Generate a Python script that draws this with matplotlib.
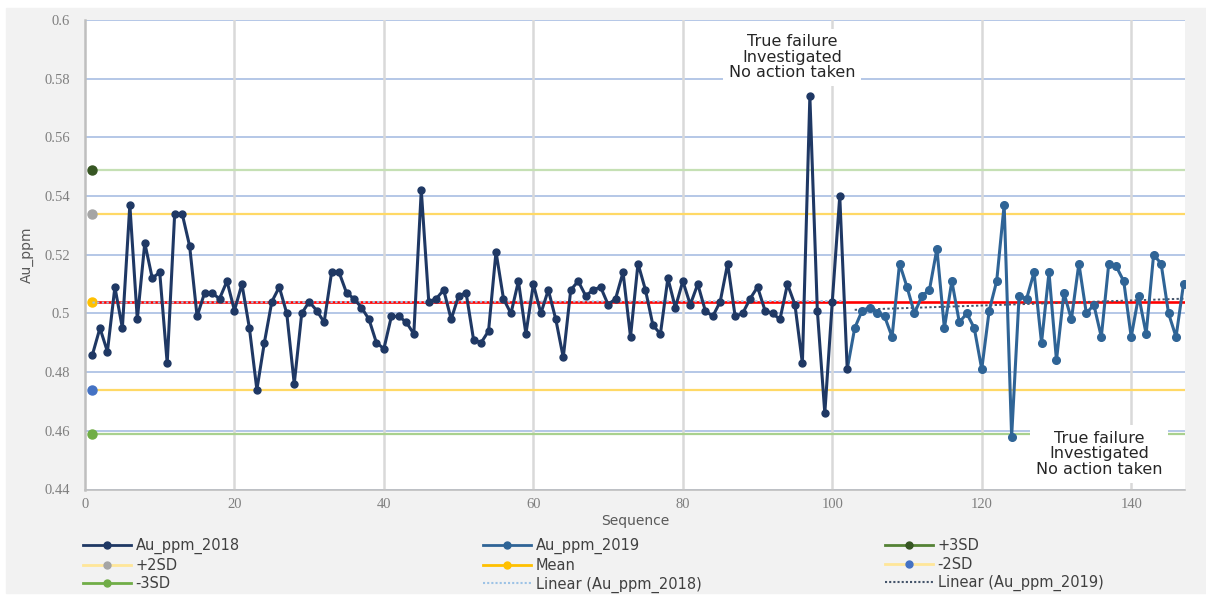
import numpy as np
import matplotlib
matplotlib.use("Agg")
import matplotlib.pyplot as plt
from matplotlib.lines import Line2D
from matplotlib.patches import Rectangle
from matplotlib.ticker import FuncFormatter

# Au standard results
au_ppm_2018 = [0.486, 0.495, 0.487, 0.509, 0.495, 0.537, 0.498, 0.524, 0.512, 0.514,
               0.483, 0.534, 0.534, 0.523, 0.499, 0.507, 0.507, 0.505, 0.511, 0.501,
               0.510, 0.495, 0.474, 0.490, 0.504, 0.509, 0.500, 0.476, 0.500, 0.504,
               0.501, 0.497, 0.514, 0.514, 0.507, 0.505, 0.502, 0.498, 0.490, 0.488,
               0.499, 0.499, 0.497, 0.493, 0.542, 0.504, 0.505, 0.508, 0.498, 0.506,
               0.507, 0.491, 0.490, 0.494, 0.521, 0.505, 0.500, 0.511, 0.493, 0.510,
               0.500, 0.508, 0.498, 0.485, 0.508, 0.511, 0.506, 0.508, 0.509, 0.503,
               0.505, 0.514, 0.492, 0.517, 0.508, 0.496, 0.493, 0.512, 0.502, 0.511,
               0.503, 0.510, 0.501, 0.499, 0.504, 0.517, 0.499, 0.500, 0.505, 0.509,
               0.501, 0.500, 0.498, 0.510, 0.503, 0.483, 0.574, 0.501, 0.466, 0.504,
               0.540, 0.481]
au_ppm_2019 = [0.495, 0.501, 0.502, 0.500, 0.499, 0.492, 0.517, 0.509, 0.500, 0.506,
               0.508, 0.522, 0.495, 0.511, 0.497, 0.500, 0.495, 0.481, 0.501, 0.511,
               0.537, 0.458, 0.506, 0.505, 0.514, 0.490, 0.514, 0.484, 0.507, 0.498,
               0.517, 0.500, 0.503, 0.492, 0.517, 0.516, 0.511, 0.492, 0.506, 0.493,
               0.520, 0.517, 0.500, 0.492, 0.510]
seq_2018 = list(range(1, len(au_ppm_2018) + 1))
seq_2019 = list(range(seq_2018[-1] + 1, seq_2018[-1] + 1 + len(au_ppm_2019)))

mean_value = 0.504
plus_2sd = 0.534
minus_2sd = 0.474
plus_3sd = 0.549
minus_3sd = 0.459

y_ticks = [0.44, 0.46, 0.48, 0.5, 0.52, 0.54, 0.56, 0.58, 0.6]
x_ticks = [0, 20, 40, 60, 80, 100, 120, 140]
note_text = "True failure\nInvestigated\nNo action taken"

NAVY = "#1f3864"
STEEL = "#2f6496"
W, H = 1206, 597

fig = plt.figure(figsize=(W / 100, H / 100), dpi=100)
fig.patches.append(Rectangle((6 / W, 4 / H), 1 - 6 / W, 1 - 12 / H,
                             transform=fig.transFigure, color="#f2f2f2", zorder=-10))
ax = fig.add_axes([85 / W, 1 - 489.5 / H, 1100 / W, 469.5 / H])
ax.set_facecolor("white")

# gridlines
for yv in y_ticks:
    ax.axhline(yv, color="#b4c7e7", lw=1.4, zorder=1)
for xv in x_ticks[1:]:
    ax.axvline(xv, color="#d9d9d9", lw=1.8, zorder=1)

# control limits (marker only at first sequence)
limit_x = [1, seq_2019[-1] + 0.2]
limits = [(plus_3sd, "#c5e0b4", "#375623"), (plus_2sd, "#ffd966", "#a5a5a5"),
          (minus_2sd, "#ffd966", "#4472c4"), (minus_3sd, "#a9d18e", "#70ad47")]
for yv, line_col, mark_col in limits:
    ax.plot(limit_x, [yv, yv], color=line_col, lw=1.6, zorder=2)
    ax.plot([1], [yv], "o", color=mark_col, ms=6.5, zorder=3)
ax.plot(limit_x, [mean_value, mean_value], color="#ff0000", lw=1.9, zorder=2)
ax.plot([1], [mean_value], "o", color="#ffc000", ms=6.5, zorder=3)

# linear trends
fit_2018 = np.polyfit(seq_2018, au_ppm_2018, 1)
fit_2019 = np.polyfit(seq_2019, au_ppm_2019, 1)
ax.plot(seq_2018, np.polyval(fit_2018, seq_2018), color="#9dc3e6", lw=1.4,
        ls=(0, (1.2, 1.2)), zorder=4)
ax.plot(seq_2019, np.polyval(fit_2019, seq_2019), color="#44546a", lw=1.4,
        ls=(0, (1.2, 1.2)), zorder=4)

# data series
ax.plot([seq_2018[-1], seq_2019[0]], [au_ppm_2018[-1], au_ppm_2019[0]],
        color=STEEL, lw=2.2, zorder=5)
ax.plot(seq_2018, au_ppm_2018, "-o", color=NAVY, lw=2.2, ms=5, zorder=6)
ax.plot(seq_2019, au_ppm_2019, "-o", color=STEEL, lw=2.2, ms=5.5, zorder=6)

# annotations
box = dict(boxstyle="square,pad=0.35", fc="white", ec="none")
ax.text(94.6, 0.5873, note_text, ha="center", va="center", fontsize=11.5,
        linespacing=1.05, color="#262626", bbox=box, zorder=10)
ax.text(135.7, 0.4521, note_text, ha="center", va="center", fontsize=11.5,
        linespacing=1.05, color="#262626", bbox=box, zorder=10)

ax.set_xlim(0, seq_2019[-1] + 0.2)
ax.set_ylim(0.44, 0.6)
ax.set_xticks(x_ticks)
ax.set_yticks(y_ticks)
ax.yaxis.set_major_formatter(FuncFormatter(lambda v, p: "%g" % v))
for lbl in ax.get_xticklabels() + ax.get_yticklabels():
    lbl.set_family("Liberation Serif")
ax.tick_params(axis="both", length=0, labelsize=10.5, labelcolor="#7f7f7f")
ax.tick_params(axis="y", pad=11)
ax.tick_params(axis="x", pad=6)
for side in ("top", "right"):
    ax.spines[side].set_visible(False)
ax.spines["left"].set_color("#bfbfbf")
ax.spines["left"].set_linewidth(1.8)
ax.spines["bottom"].set_color("#bfbfbf")
ax.spines["bottom"].set_linewidth(1.2)
ax.set_xlabel("Sequence", fontsize=10, color="#595959", labelpad=2)
ax.set_ylabel("Au_ppm", fontsize=10, color="#595959", labelpad=7)

# legend, three columns placed like the reference
def entry(line_col, mark_col=None):
    if mark_col is None:
        return Line2D([], [], color=line_col, lw=1.5, ls=(0, (1, 1)))
    return Line2D([], [], color=line_col, lw=2, marker="o", ms=5, mfc=mark_col,
                  mec=mark_col)

columns = [
    (83, [(entry(NAVY, NAVY), "Au_ppm_2018"), (entry("#ffe699", "#a5a5a5"), "+2SD"),
          (entry("#70ad47", "#70ad47"), "-3SD")]),
    (483, [(entry(STEEL, STEEL), "Au_ppm_2019"), (entry("#ffc000", "#ffc000"), "Mean"),
           (entry("#9dc3e6"), "Linear (Au_ppm_2018)")]),
    (885, [(entry("#548235", "#375623"), "+3SD"), (entry("#ffe699", "#4472c4"), "-2SD"),
           (entry("#44546a"), "Linear (Au_ppm_2019)")]),
]
for x_px, items in columns:
    fig.legend([h for h, _ in items], [t for _, t in items], loc="upper left",
               bbox_to_anchor=(x_px / W, 1 - 538 / H), frameon=False, fontsize=10.5,
               handlelength=3.3, handletextpad=0.3, labelspacing=0.25,
               borderpad=0, borderaxespad=0, labelcolor="#404040")

fig.savefig("out.png", dpi=100, facecolor="white")
